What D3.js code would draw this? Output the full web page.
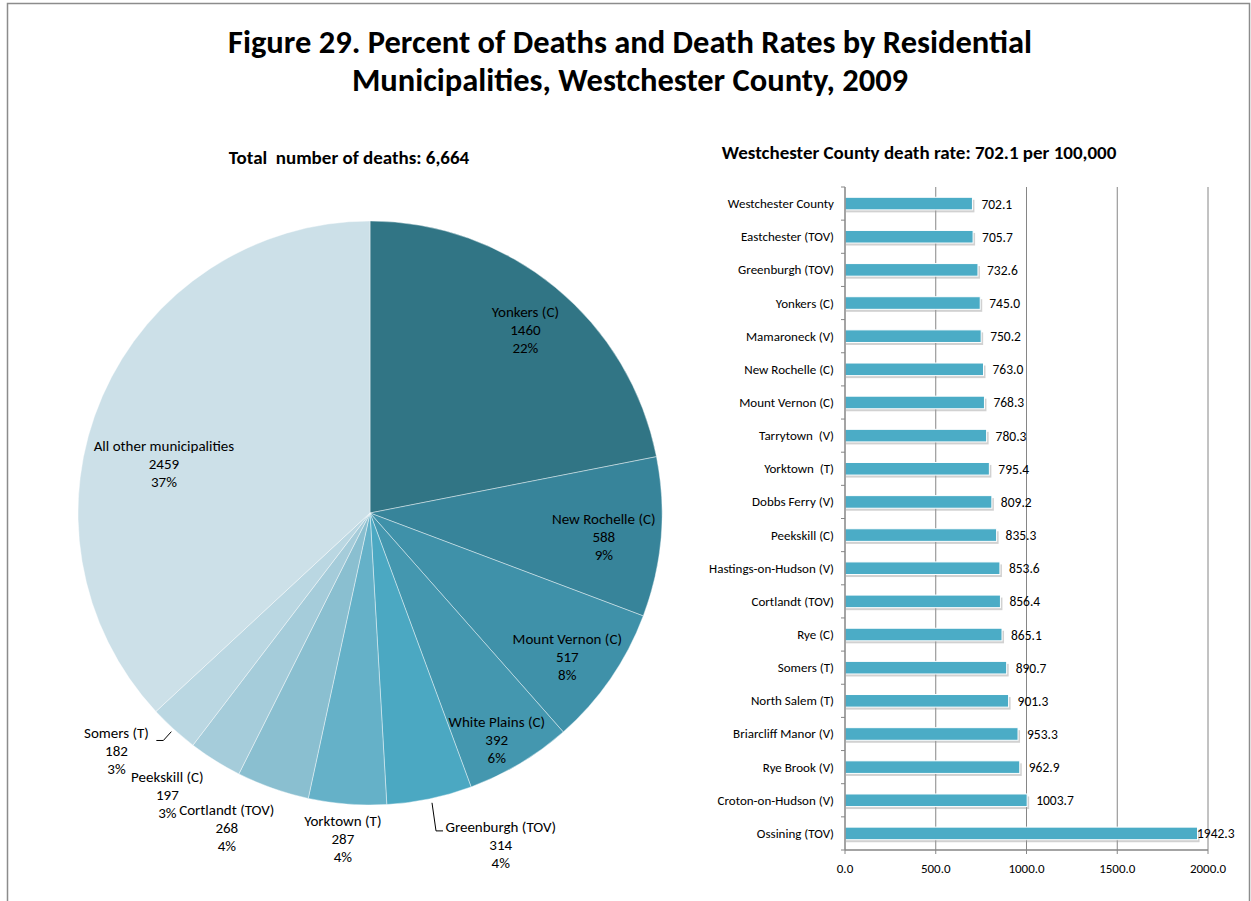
<!DOCTYPE html>
<html><head><meta charset="utf-8">
<script src="https://cdn.jsdelivr.net/npm/d3@7"></script>
<style>
body{margin:0;background:#fff;}
svg{display:block;font-family:Carlito,Calibri,Lato,"Open Sans",sans-serif;}
text{white-space:pre;}
</style></head>
<body><svg id="c" width="1251" height="901"></svg>
<script>
// ---- data ----
const pieNames = ["Yonkers (C)","New Rochelle (C)","Mount Vernon (C)","White Plains (C)","Greenburgh (TOV)","Yorktown (T)","Cortlandt (TOV)","Peekskill (C)","Somers (T)","All other municipalities"];
const pieValues = [1460,588,517,392,314,287,268,197,182,2459];
const piePercents = ["22%","9%","8%","6%","4%","4%","4%","3%","3%","37%"];
const pieColors = ["#317585","#37849A","#3F91A9","#4497AF","#4BA8C2","#65B1C8","#8ABFD0","#A5CCDA","#BAD7E2","#CCE0E8"];

const barNames = ["Westchester County","Eastchester (TOV)","Greenburgh (TOV)","Yonkers (C)","Mamaroneck (V)","New Rochelle (C)","Mount Vernon (C)","Tarrytown  (V)","Yorktown  (T)","Dobbs Ferry (V)","Peekskill (C)","Hastings-on-Hudson (V)","Cortlandt (TOV)","Rye (C)","Somers (T)","North Salem (T)","Briarcliff Manor (V)","Rye Brook (V)","Croton-on-Hudson (V)","Ossining (TOV)"];
const barValues = [702.1,705.7,732.6,745.0,750.2,763.0,768.3,780.3,795.4,809.2,835.3,853.6,856.4,865.1,890.7,901.3,953.3,962.9,1003.7,1942.3];
const xTicks = [0,500,1000,1500,2000];

const titleLines = ["Figure 29. Percent of Deaths and Death Rates by Residential","Municipalities, Westchester County, 2009"];
const pieTitle = "Total  number of deaths: 6,664";
const barTitle = "Westchester County death rate: 702.1 per 100,000";

// ---- layout ----
const svg = d3.select("#c");
svg.append("rect").attr("x",7.5).attr("y",3.5).attr("width",1242).attr("height",905)
  .attr("fill","none").attr("stroke","#8c8c8c").attr("stroke-width",1.5);

svg.append("g").selectAll("text").data(titleLines).join("text")
  .attr("x",630).attr("y",(d,i)=>53+i*38).attr("text-anchor","middle")
  .attr("font-size",32.5).attr("font-weight","bold").attr("fill","#000").text(d=>d);

svg.append("text").attr("x",349).attr("y",164).attr("text-anchor","middle")
  .attr("font-size",19).attr("font-weight","bold").text(pieTitle);
svg.append("text").attr("x",919).attr("y",159).attr("text-anchor","middle")
  .attr("font-size",19).attr("font-weight","bold").text(barTitle);

// ---- pie ----
const cx=370, cy=513, R=292;
const pieData = pieNames.map((n,i)=>({name:n,value:pieValues[i],pct:piePercents[i],color:pieColors[i]}));
const pie = d3.pie().value(d=>d.value).sort(null);
const arcs = pie(pieData);
const arc = d3.arc().innerRadius(0).outerRadius(R);
const gp = svg.append("g").attr("transform",`translate(${cx},${cy})`);
gp.selectAll("path").data(arcs).join("path").attr("d",arc)
  .attr("fill",d=>d.data.color).attr("stroke","#fff").attr("stroke-width",0.6).attr("stroke-opacity",0.7);

// label placement: inside labels at 0.8R, outside at R+45, with nudges
const labelLayout = {
  "Yonkers (C)":{r:0.8*R,dx:7,dy:-3},
  "New Rochelle (C)":{r:0.8*R,dx:1,dy:5},
  "Mount Vernon (C)":{r:0.8*R,dx:5,dy:11},
  "White Plains (C)":{r:0.8*R,dx:7,dy:26},
  "Greenburgh (TOV)":{r:R+45,dx:62,dy:2,leader:true},
  "Yorktown (T)":{r:R+45,dx:-1,dy:-10},
  "Cortlandt (TOV)":{r:R+45,dx:-31,dy:-3},
  "Peekskill (C)":{r:R+45,dx:-24,dy:-4},
  "Somers (T)":{r:R+45,dx:-27,dy:-11,leader:true},
  "All other municipalities":{r:0.8*R,dx:8,dy:44}
};
const lh = 18;
arcs.forEach(a=>{
  const L = labelLayout[a.data.name];
  const c = d3.arc().innerRadius(L.r).outerRadius(L.r).centroid(a);
  const x = c[0]+L.dx, y = c[1]+L.dy;
  const t = gp.append("text").attr("text-anchor","middle").attr("font-size",15).attr("fill","#000");
  [a.data.name, String(a.data.value), a.data.pct].forEach((s,i)=>{
    t.append("tspan").attr("x",x).attr("y",y+(i-1)*lh+5).text(s);
  });
  if(L.leader){
    const e = d3.arc().innerRadius(R+2).outerRadius(R+2).centroid(a);
    let pts;
    if(x>e[0]){
      pts=[[e[0]+2,e[1]+2],[e[0]+6,y-14],[e[0]+13,y-14]];
    } else {
      pts=[[e[0]-1,e[1]+1],[e[0]-9,y-11],[e[0]-16,y-11]];
    }
    gp.append("path").attr("d",d3.line()(pts)).attr("fill","none").attr("stroke","#000").attr("stroke-width",1);
  }
});

// ---- bar chart ----
const x0=845, x1=1208, yTop=187, yBot=850;
const xs = d3.scaleLinear().domain([0,2000]).range([x0,x1]);
const ys = d3.scaleBand().domain(barNames).range([yTop,yBot]).paddingInner(0.62).paddingOuter(0.31);
const gb = svg.append("g");
gb.selectAll("line.grid").data(xTicks.slice(1)).join("line").attr("class","grid")
  .attr("x1",d=>xs(d)).attr("x2",d=>xs(d)).attr("y1",yTop).attr("y2",yBot)
  .attr("stroke","#868686").attr("stroke-width",1);
gb.selectAll("rect.sh").data(barValues).join("rect").attr("class","sh")
  .attr("x",x0+1).attr("y",(d,i)=>ys(barNames[i])+2.5)
  .attr("width",d=>xs(d)-x0+1).attr("height",ys.bandwidth())
  .attr("fill","#9a9a9a").attr("opacity",0.45);
gb.selectAll("rect.bar").data(barValues).join("rect").attr("class","bar")
  .attr("x",x0).attr("y",(d,i)=>ys(barNames[i]))
  .attr("width",d=>xs(d)-x0).attr("height",ys.bandwidth())
  .attr("fill","#4BACC6").attr("stroke","#fff").attr("stroke-width",1);
gb.selectAll("text.val").data(barValues).join("text").attr("class","val")
  .attr("x",d=>Math.min(xs(d)+9, xs(2000)-11)).attr("y",(d,i)=>ys(barNames[i])+ys.bandwidth()/2+5)
  .attr("font-size",13.5).attr("fill","#000").text(d=>d.toFixed(1));
gb.append("line").attr("x1",x0).attr("x2",x0).attr("y1",yTop).attr("y2",yBot).attr("stroke","#868686").attr("stroke-width",1.5);
const step = (yBot-yTop)/barNames.length;
gb.selectAll("line.yt").data(d3.range(barNames.length+1)).join("line").attr("class","yt")
  .attr("x1",x0-4).attr("x2",x0).attr("y1",i=>yTop+i*step).attr("y2",i=>yTop+i*step)
  .attr("stroke","#868686").attr("stroke-width",1);
gb.selectAll("text.cat").data(barNames).join("text").attr("class","cat")
  .attr("x",834).attr("y",d=>ys(d)+ys.bandwidth()/2+4.5).attr("text-anchor","end")
  .attr("font-size",13).attr("fill","#000").text(d=>d);
gb.append("line").attr("x1",x0).attr("x2",x1).attr("y1",yBot).attr("y2",yBot).attr("stroke","#868686").attr("stroke-width",1.5);
gb.selectAll("line.xt").data(xTicks).join("line").attr("class","xt")
  .attr("x1",d=>xs(d)).attr("x2",d=>xs(d)).attr("y1",yBot).attr("y2",yBot+4)
  .attr("stroke","#868686").attr("stroke-width",1);
gb.selectAll("text.xl").data(xTicks).join("text").attr("class","xl")
  .attr("x",d=>xs(d)).attr("y",873).attr("text-anchor","middle")
  .attr("font-size",13).attr("fill","#000").text(d=>d.toFixed(1));
</script></body></html>
